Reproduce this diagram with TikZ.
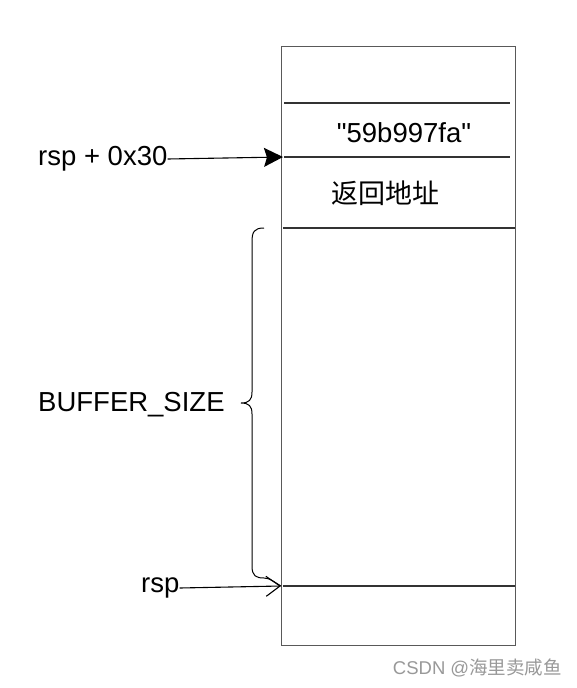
\documentclass[tikz,border=0pt]{standalone}
\usepackage{fontspec}
\setmainfont{Liberation Sans}
\newfontfamily\cjk{Noto Sans CJK SC}
\usetikzlibrary{arrows.meta,decorations.pathreplacing}
\begin{document}
\begin{tikzpicture}[x=1pt,y=-1pt,
  lbl/.style={inner sep=0pt,font=\fontsize{27.5}{31}\selectfont},
  cell/.style={draw=black!80,line width=1.2pt},
  frame/.style={draw=black!65,line width=1.4pt},
  conn/.style={draw=black,line width=1.1pt}]
\useasboundingbox[fill=white] (0,0) rectangle (577,688);
% stack frame
\node[frame,minimum width=234pt,minimum height=599pt,inner sep=0pt,anchor=north west] (stack) at (281,46) {};
\draw[cell] (284,103) -- (510,103);
\draw[cell] (284,157) -- (510,157);
\draw[cell] (283,228) -- (515,228);
\draw[cell] (283,586) -- (515,586);
\node[lbl] (val) at (404,133) {\textquotedbl 59b997fa\textquotedbl};
\node[lbl,font=\cjk\fontsize{27}{30}\selectfont] (ret) at (385,193) {返回地址};
% labels
\node[lbl,anchor=west] (rsp30) at (38,159) {rsp + 0x30};
\coordinate (p30) at (283,157);
\draw[conn,-{Stealth[length=19pt,width=19pt,inset=3pt]}] (rsp30.east) -- (p30);
\node[lbl,anchor=west] (rsp) at (141,588) {rsp};
\coordinate (p0) at (281,586);
\draw[conn,-{Straight Barb[length=14pt,width=20pt,line width=1.1pt]}] (rsp.east) -- (p0);
\node[lbl,anchor=west] (buf) at (38,405) {BUFFER\_SIZE};
\coordinate (bt) at (264,228);
\coordinate (bb) at (264,578);
\draw[conn,line width=1pt] (bt) .. controls (254,228) and (252,232) .. (252,242)
  -- (252,392) .. controls (252,400) and (249,403) .. (241,403)
  .. controls (249,403) and (252,406) .. (252,414)
  -- (252,566) .. controls (252,576) and (256,578) .. (bb)
  .. controls (270,578) and (274,582) .. (p0);
% watermark
\node[inner sep=0pt,anchor=east,text=black!40,font=\fontsize{18.5}{20}\selectfont] (wm) at (562,668) {CSDN @{\cjk 海里卖咸鱼}};
\end{tikzpicture}
\end{document}
